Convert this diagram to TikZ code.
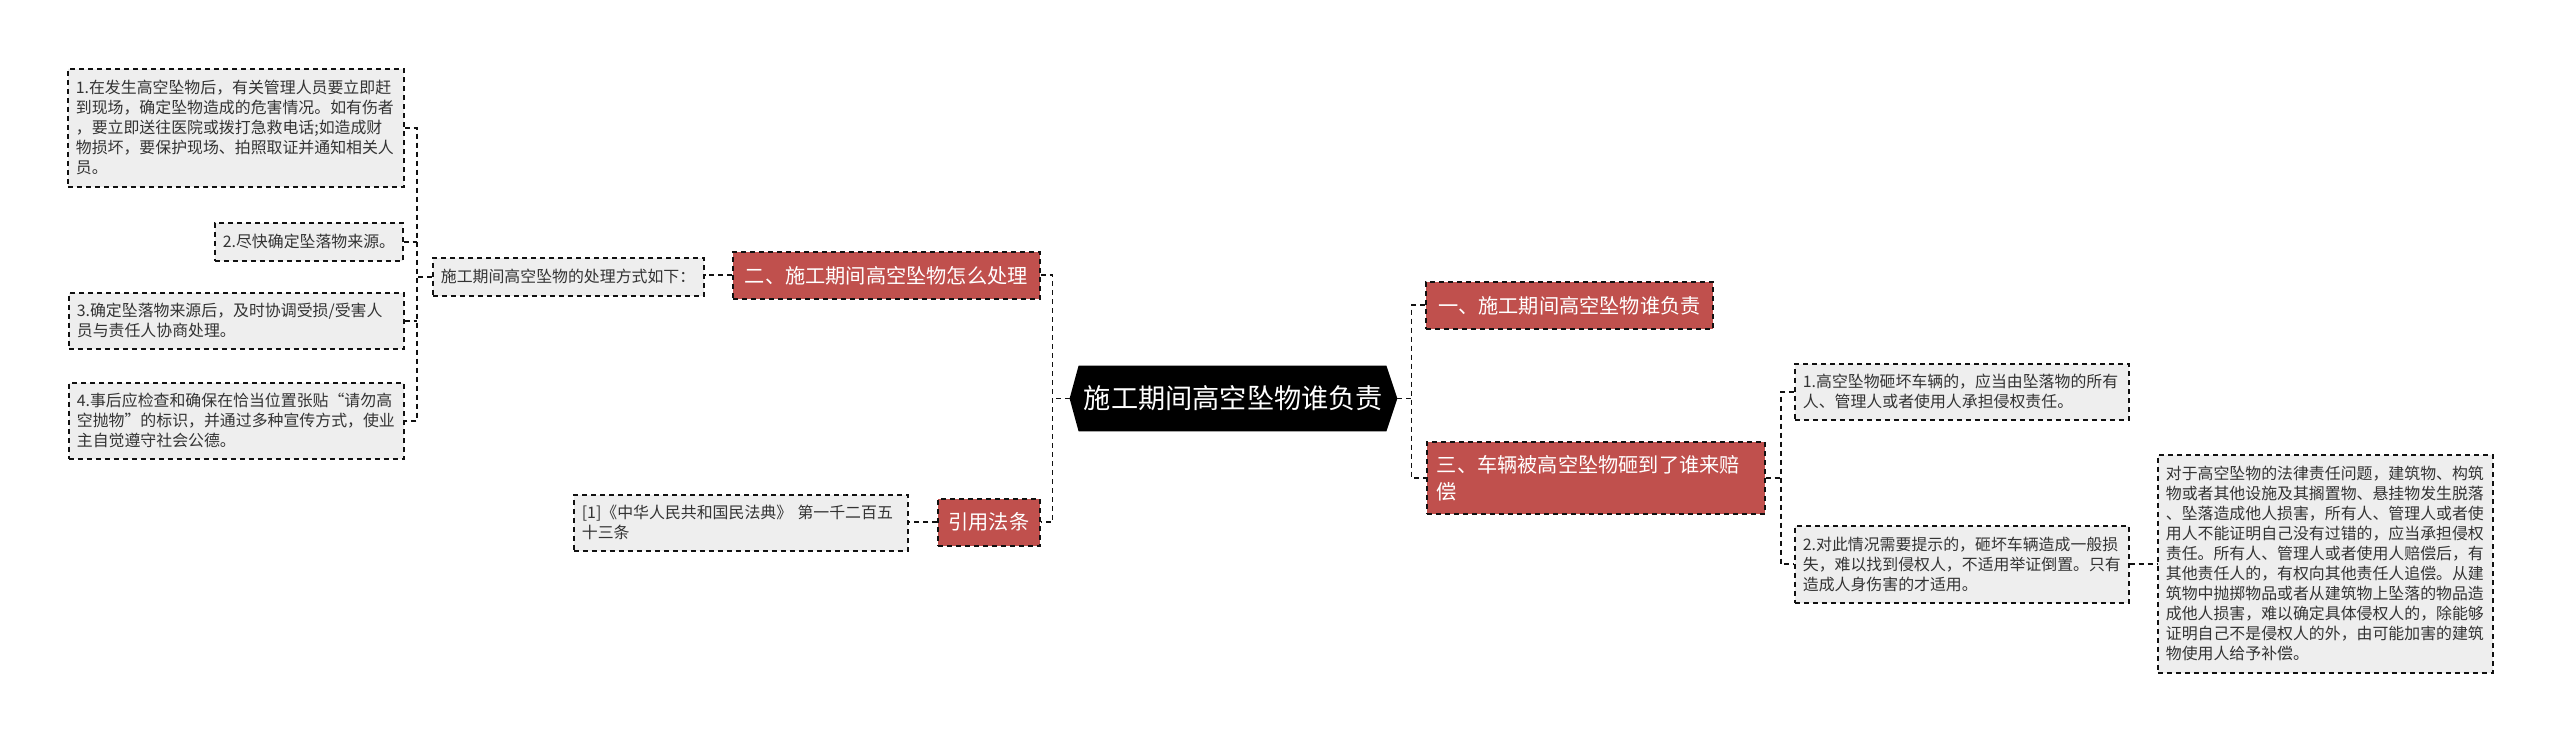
\documentclass[tikz,border=0pt]{standalone}
\usepackage{fontspec}
\setmainfont{Noto Sans CJK SC}
\usetikzlibrary{backgrounds}
\definecolor{boxred}{HTML}{C0504D}
\definecolor{boxgray}{HTML}{EEEEEE}
\definecolor{txtgray}{HTML}{333333}
\definecolor{linegray}{HTML}{111111}
\begin{document}
\begin{tikzpicture}[x=0.5pt,y=-0.5pt,
  dashline/.style={dash pattern=on 2.5pt off 2pt, line width=0.85pt, draw=linegray},
  gbox/.style={dashline, fill=boxgray, text=txtgray, anchor=north west, align=left, inner xsep=4pt, inner ysep=0pt, font=\fontsize{7.95}{10}\selectfont},
  rbox/.style={dashline, fill=boxred, text=white, anchor=north west, inner xsep=5pt, inner ysep=0pt, font=\fontsize{10.1}{13.5}\selectfont},
  conn/.style={dashline}]
\useasboundingbox (0,0) rectangle (2560,742);
\begin{scope}[on background layer]
\fill[white] (0,0) rectangle (2560,742);
\end{scope}
% left side detail boxes
\node[gbox, minimum width=168pt, minimum height=59pt, text width=160pt] (b1) at (67,68) {1.在发生高空坠物后，有关管理人员要立即赶\\到现场，确定坠物造成的危害情况。如有伤者\\，要立即送往医院或拨打急救电话;如造成财\\物损坏，要保护现场、拍照取证并通知相关人\\员。};
\node[gbox, minimum width=94pt, minimum height=19pt, text width=86pt] (b2) at (214,222) {2.尽快确定坠落物来源。};
\node[gbox, minimum width=167.5pt, minimum height=28pt, text width=159.5pt] (b3) at (68,292) {3.确定坠落物来源后，及时协调受损/受害人\\员与责任人协商处理。};
\node[gbox, minimum width=167.5pt, minimum height=38pt, text width=159.5pt] (b4) at (68,382) {4.事后应检查和确保在恰当位置张贴“请勿高\\空抛物”的标识，并通过多种宣传方式，使业\\主自觉遵守社会公德。};
\node[gbox, minimum width=135.5pt, minimum height=19pt, text width=127.5pt] (g1) at (432,257) {施工期间高空坠物的处理方式如下：};
\node[gbox, minimum width=167pt, minimum height=28pt, text width=159pt] (ref) at (573,494) {[1]《中华人民共和国民法典》 第一千二百五\\十三条};
% red branch boxes
\node[rbox, minimum width=153.5pt, minimum height=23.5pt] (r2) at (732,251) {二、施工期间高空坠物怎么处理};
\node[rbox, minimum width=51pt, minimum height=23.5pt] (yy) at (937,498) {引用法条};
\node[rbox, minimum width=143.5pt, minimum height=23.5pt] (r1) at (1425,281) {一、施工期间高空坠物谁负责};
\node[rbox, minimum width=169pt, minimum height=36pt, text width=159pt, align=left] (r3) at (1426,441) {三、车辆被高空坠物砸到了谁来赔\\偿};
% right detail boxes
\node[gbox, minimum width=167pt, minimum height=28pt, text width=159pt] (rb1) at (1794,363) {1.高空坠物砸坏车辆的，应当由坠落物的所有\\人、管理人或者使用人承担侵权责任。};
\node[gbox, minimum width=167pt, minimum height=38.5pt, text width=159pt] (rb2) at (1794,525) {2.对此情况需要提示的，砸坏车辆造成一般损\\失，难以找到侵权人，不适用举证倒置。只有\\造成人身伤害的才适用。};
\node[gbox, minimum width=167.5pt, minimum height=109pt, text width=159.5pt] (big) at (2157,454) {对于高空坠物的法律责任问题，建筑物、构筑\\物或者其他设施及其搁置物、悬挂物发生脱落\\、坠落造成他人损害，所有人、管理人或者使\\用人不能证明自己没有过错的，应当承担侵权\\责任。所有人、管理人或者使用人赔偿后，有\\其他责任人的，有权向其他责任人追偿。从建\\筑物中抛掷物品或者从建筑物上坠落的物品造\\成他人损害，难以确定具体侵权人的，除能够\\证明自己不是侵权人的外，由可能加害的建筑\\物使用人给予补偿。};
% central node
\node[font=\fontsize{13.6}{16}\selectfont, text=white, minimum width=163.5pt, minimum height=32.5pt, inner sep=0pt] (c) at (1233.5,398.5) {施工期间高空坠物谁负责};
\begin{scope}[on background layer]
\fill[black] (c.west) -- ([xshift=4.5pt]c.north west) -- ([xshift=-5.5pt]c.north east) -- (c.east) -- ([xshift=-5.5pt]c.south east) -- ([xshift=4.5pt]c.south west) -- cycle;
\end{scope}
% bus coordinates
\coordinate (gb) at ([xshift=-7.5pt]g1.west);
\coordinate (cl) at ([xshift=-8.5pt]c.west);
\coordinate (cr) at ([xshift=7pt]c.east);
\coordinate (rr) at ([xshift=7.5pt]r3.east);
% connectors
\draw[conn] (b1.east) -- (b1.east -| gb) -- (b4.east -| gb) -- (b4.east);
\draw[conn] (b2.east) -- (b2.east -| gb);
\draw[conn] (b3.east) -- (b3.east -| gb);
\draw[conn] (g1.west) -- (gb);
\draw[conn] (r2.west) -- (r2.west -| g1.east);
\draw[conn] (r2.east) -- (r2.east -| cl) -- (yy.east -| cl) -- (yy.east);
\draw[conn] (c.west) -- (cl);
\draw[conn] (yy.west) -- (yy.west -| ref.east);
\draw[conn] (r1.west) -- (r1.west -| cr) -- (r3.west -| cr) -- (r3.west);
\draw[conn] (c.east) -- (cr);
\draw[conn] (rb1.west) -- (rb1.west -| rr) -- (rb2.west -| rr) -- (rb2.west);
\draw[conn] (r3.east) -- (rr);
\draw[conn] (rb2.east) -- (rb2.east -| big.west);
\end{tikzpicture}
\end{document}
